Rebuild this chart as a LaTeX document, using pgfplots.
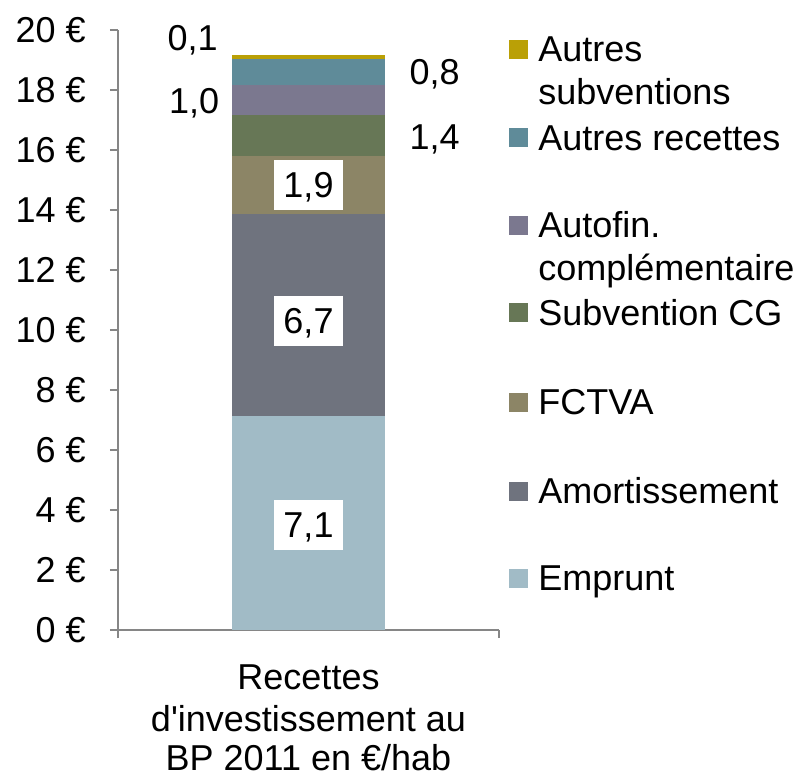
\documentclass[border=0pt]{standalone}
\usepackage{fontspec}
\setmainfont{Liberation Sans}
\usepackage{pgfplots}
\pgfplotsset{compat=1.18}

\definecolor{cEmprunt}{RGB}{161,187,198}
\definecolor{cAmort}{RGB}{111,115,126}
\definecolor{cFCTVA}{RGB}{140,133,102}
\definecolor{cCG}{RGB}{103,119,86}
\definecolor{cAutofin}{RGB}{123,120,143}
\definecolor{cAutRec}{RGB}{95,139,153}
\definecolor{cAutSub}{RGB}{186,160,6}
\definecolor{axisgray}{RGB}{134,134,134}

\begin{document}
\begin{tikzpicture}[font=\fontsize{18}{21}\selectfont,
  lab/.style={fill=white, inner xsep=4.5pt, inner ysep=6.3pt,
              text height=12.4pt, text depth=0pt},
  leg/.style={anchor=west, inner sep=0pt, text height=12.4pt, text depth=0pt},
  cat/.style={anchor=center, inner sep=0pt, text height=12.4pt, text depth=0pt}]
\path[use as bounding box] (-59pt,-73.5pt) rectangle (345pt,315pt);

\begin{axis}[
  at={(0,0)}, anchor=south west,
  scale only axis, width=190.5pt, height=300pt,
  xmin=0, xmax=1, ymin=0, ymax=20,
  ybar stacked, bar width=76.5pt,
  axis lines=left,
  axis line style={-, draw=axisgray, line width=1pt},
  tick style={draw=axisgray, line width=1pt},
  tick align=outside, major tick length=4pt,
  xtick={0,1}, xticklabels={},
  ytick={0,2,...,20},
  yticklabel={\pgfmathprintnumber{\tick}~€},
  yticklabel style={anchor=east, inner sep=0pt, xshift=-12pt},
  /pgf/number format/assume math mode=true,
  clip=false,
]
\addplot[fill=cEmprunt, draw=none] coordinates {(0.5,7.12)};
\addplot[fill=cAmort, draw=none] coordinates {(0.5,6.73)};
\addplot[fill=cFCTVA, draw=none] coordinates {(0.5,1.94)};
\addplot[fill=cCG, draw=none] coordinates {(0.5,1.36)};
\addplot[fill=cAutofin, draw=none] coordinates {(0.5,1.03)};
\addplot[fill=cAutRec, draw=none] coordinates {(0.5,0.84)};
\addplot[fill=cAutSub, draw=none] coordinates {(0.5,0.13)};

% where the value labels go (drawn after the axis so they sit on the bars)
\coordinate (vEmp) at (axis cs:0.5,3.5);
\coordinate (vAmo) at (axis cs:0.5,10.3);
\coordinate (vFct) at (axis cs:0.5,14.82);
\coordinate (vCG)  at (axis cs:0.831,16.43);
\coordinate (vRec) at (axis cs:0.831,18.58);
\coordinate (vAuf) at (axis cs:0.2,17.62);
\coordinate (vSub) at (axis cs:0.196,19.72);
\end{axis}

\node[lab] at (vEmp) {7,1};
\node[lab] at (vAmo) {6,7};
\node[lab] at (vFct) {1,9};
\node[lab] at (vCG)  {1,4};
\node[lab] at (vRec) {0,8};
\node[lab] at (vAuf) {1,0};
\node[lab] at (vSub) {0,1};

% legend, top to bottom
\fill[cAutSub]  (195.5pt,285.5pt) rectangle +(9.5pt,9.5pt);
\node[leg] at (210pt,290.25pt) {Autres};
\node[leg] at (210pt,269pt) {subventions};
\fill[cAutRec]  (195.5pt,241.25pt) rectangle +(9.5pt,9.5pt);
\node[leg] at (210pt,246pt) {Autres recettes};
\fill[cAutofin] (195.5pt,197.5pt) rectangle +(9.5pt,9.5pt);
\node[leg] at (210pt,202.25pt) {Autofin.};
\node[leg] at (210pt,181pt) {complémentaire};
\fill[cCG]      (195.5pt,153.75pt) rectangle +(9.5pt,9.5pt);
\node[leg] at (210pt,158.5pt) {Subvention CG};
\fill[cFCTVA]   (195.5pt,109pt) rectangle +(9.5pt,9.5pt);
\node[leg] at (210pt,113.75pt) {FCTVA};
\fill[cAmort]   (195.5pt,64.75pt) rectangle +(9.5pt,9.5pt);
\node[leg] at (210pt,69.5pt) {Amortissement};
\fill[cEmprunt] (195.5pt,21pt) rectangle +(9.5pt,9.5pt);
\node[leg] at (210pt,25.75pt) {Emprunt};

% category label
\node[cat] at (95.25pt,-23.5pt) {Recettes};
\node[cat] at (95.25pt,-44.5pt) {d\textquotesingle investissement au};
\node[cat] at (95.25pt,-64pt) {BP 2011 en €/hab};
\end{tikzpicture}
\end{document}
